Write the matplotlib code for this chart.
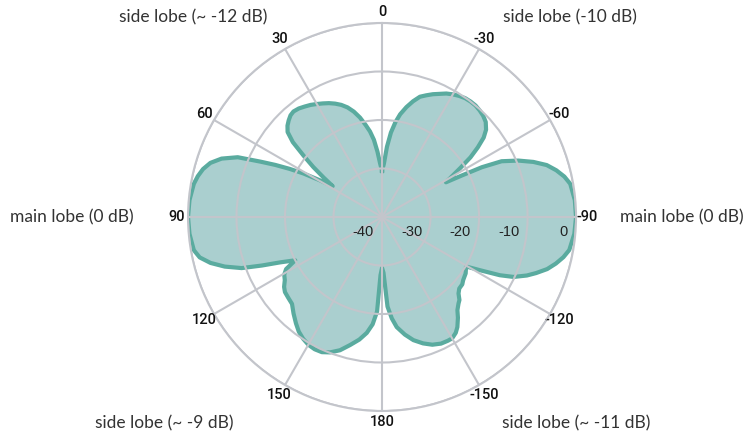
import numpy as np
import matplotlib
matplotlib.use('Agg')
import matplotlib.pyplot as plt
import matplotlib.transforms as mtransforms

# Antenna pattern: angle (deg, 0 = top, + = counter-clockwise) and gain (dB)
angles = [
    # upper left side lobe
    0, 2, 4, 6, 8, 10, 12.5, 15, 17.5, 20, 22.5, 25, 27.5, 30, 32.5, 35, 37.5, 40,
    42, 44, 46, 48, 50, 52, 54, 56, 58,
    # main lobe (left)
    59.5, 61, 62.5, 64, 65.5, 67.5, 70, 72.5, 75, 77.5, 80, 85, 90, 95, 100, 102.5,
    105, 107.5, 110, 112, 114, 116.5,
    # lower left side lobe
    118.5, 120.5, 123, 125.5, 127.7, 130.5, 134, 137.5, 141, 144, 147, 150, 153, 156,
    159, 162.5, 166, 169.5, 172.5, 175, 177, 178.5, 180,
    # lower right side lobe
    181.5, 183.5, 185.5, 187.6, 191, 194.3, 198, 201.5, 205, 208, 210, 212.5, 214.4,
    217, 219, 221.5, 223, 225, 227.2, 230, 232.1, 236, 239.5,
    # main lobe (right)
    241.5, 243.7, 245.5, 248, 250, 252.5, 255, 257.5, 260, 265, 270, 275, 280, 282.5,
    285, 287.5, 290, 292.5, 295, 296.5, 297.5, 298.5,
    # upper right side lobe
    300, 302, 304, 306, 308, 310, 312.5, 315, 317.5, 320, 322.5, 325, 327.5, 330,
    332.5, 335, 337.5, 340, 342.5, 345, 347.5, 350, 352, 354, 356, 358, 360,
]
gain_db = [
    -30.5, -29, -26.5, -24, -22.2, -20.8, -19, -17.5, -16.3, -15.4, -14.7, -14.1, -13.6,
    -13.1, -12.6, -12.2, -11.8, -11.6, -11.8, -12.3, -12.9, -13.8, -16, -19.5, -22.5,
    -25.5, -28,
    -25, -21.5, -18.5, -15.5, -12.5, -7.8, -4.8, -2.9, -1.8, -1.1, -0.6, -0.15, 0,
    -0.15, -0.6, -1.5, -3.4, -6, -9.2, -13.3, -17, -20,
    -17.5, -16.6, -16.1, -15.2, -14.7, -14.5, -14.2, -13, -11.8, -10.8, -10.1, -9.6,
    -9.4, -9.5, -10.1, -11.2, -12.8, -14.3, -15.9, -17.8, -20.5, -28, -29.5,
    -28.5, -21.5, -19, -17.1, -15.3, -13.8, -12.6, -11.7, -11.2, -11.1, -11.1, -11.7,
    -12.5, -14, -15.3, -16.2, -16.6, -17.7, -18.3, -18.4, -18.8, -19.2, -19.9,
    -17, -12.9, -10.2, -7.8, -6.2, -4.3, -2.9, -1.7, -0.8, -0.2, 0, -0.1, -0.6, -1.5,
    -2.8, -4.4, -6.8, -9.6, -12.8, -17, -21.5, -25,
    -23.5, -21, -18, -15.6, -13.4, -12, -11, -10.5, -10.2, -10, -10, -10.1, -10.4,
    -10.8, -11.3, -12, -12.6, -13.3, -14, -15.3, -16.8, -18.5, -20.3, -22.5, -25.5,
    -29, -30.5,
]

theta_ticks = [0, 30, 60, 90, 120, 150, 180, 210, 240, 270, 300, 330]
theta_labels = ['0', '30', '60', '90', '120', '150', '180', '-150', '-120', '-90', '-60', '-30']
r_ticks = [-40, -30, -20, -10, 0]

fill_color = '#aacfcf'
line_color = '#5aab9f'
grid_color = '#c3c5cb'

fig = plt.figure(figsize=(7.55, 4.36), dpi=100)
ax = fig.add_axes([0.249, 0.0573, 0.514, 0.89], projection='polar')
ax.set_theta_zero_location('N')
ax.set_theta_direction(1)
ax.set_ylim(-40, 0)

th = np.radians(angles)
ax.fill(th, gain_db, color=fill_color, lw=0, zorder=1)
ax.plot(th, gain_db, color=line_color, lw=3, zorder=2, solid_joinstyle='round')

# grid drawn on top of the pattern
ax.set_axisbelow(False)
ax.set_yticks(r_ticks[1:])
ax.set_yticklabels([])
ax.set_xticks(np.radians(theta_ticks))
ax.set_xticklabels(theta_labels, fontsize=10.5, color='#111111',
                   family='Roboto', fontweight='medium')
ax.tick_params(axis='x', pad=-2.5)
ax.grid(True, color=grid_color, lw=1.5)
ax.spines['polar'].set_color(grid_color)
ax.spines['polar'].set_linewidth(1.5)

# radial labels below the horizontal spoke, right-aligned just inside each ring
offset = mtransforms.ScaledTranslation(-8 / 100, -15 / 100, fig.dpi_scale_trans)
for rv in r_ticks:
    ax.text(np.radians(270), rv, str(rv), transform=ax.transData + offset,
            ha='right', va='center', fontsize=10.5, color='#222222',
            family='Liberation Sans', zorder=5)

txt = dict(fontsize=12.5, color='#333333', family='Lato', va='center')
fig.text(10 / 755, 1 - 217 / 436, 'main lobe (0 dB)', ha='left', **txt)
fig.text(620 / 755, 1 - 217 / 436, 'main lobe (0 dB)', ha='left', **txt)
fig.text(193 / 755, 1 - 17 / 436, 'side lobe (~ -12 dB)', ha='center', **txt)
fig.text(570 / 755, 1 - 17 / 436, 'side lobe (-10 dB)', ha='center', **txt)
fig.text(164 / 755, 1 - 423 / 436, 'side lobe (~ -9 dB)', ha='center', **txt)
fig.text(576 / 755, 1 - 423 / 436, 'side lobe (~ -11 dB)', ha='center', **txt)

fig.savefig('out.png', dpi=100)
